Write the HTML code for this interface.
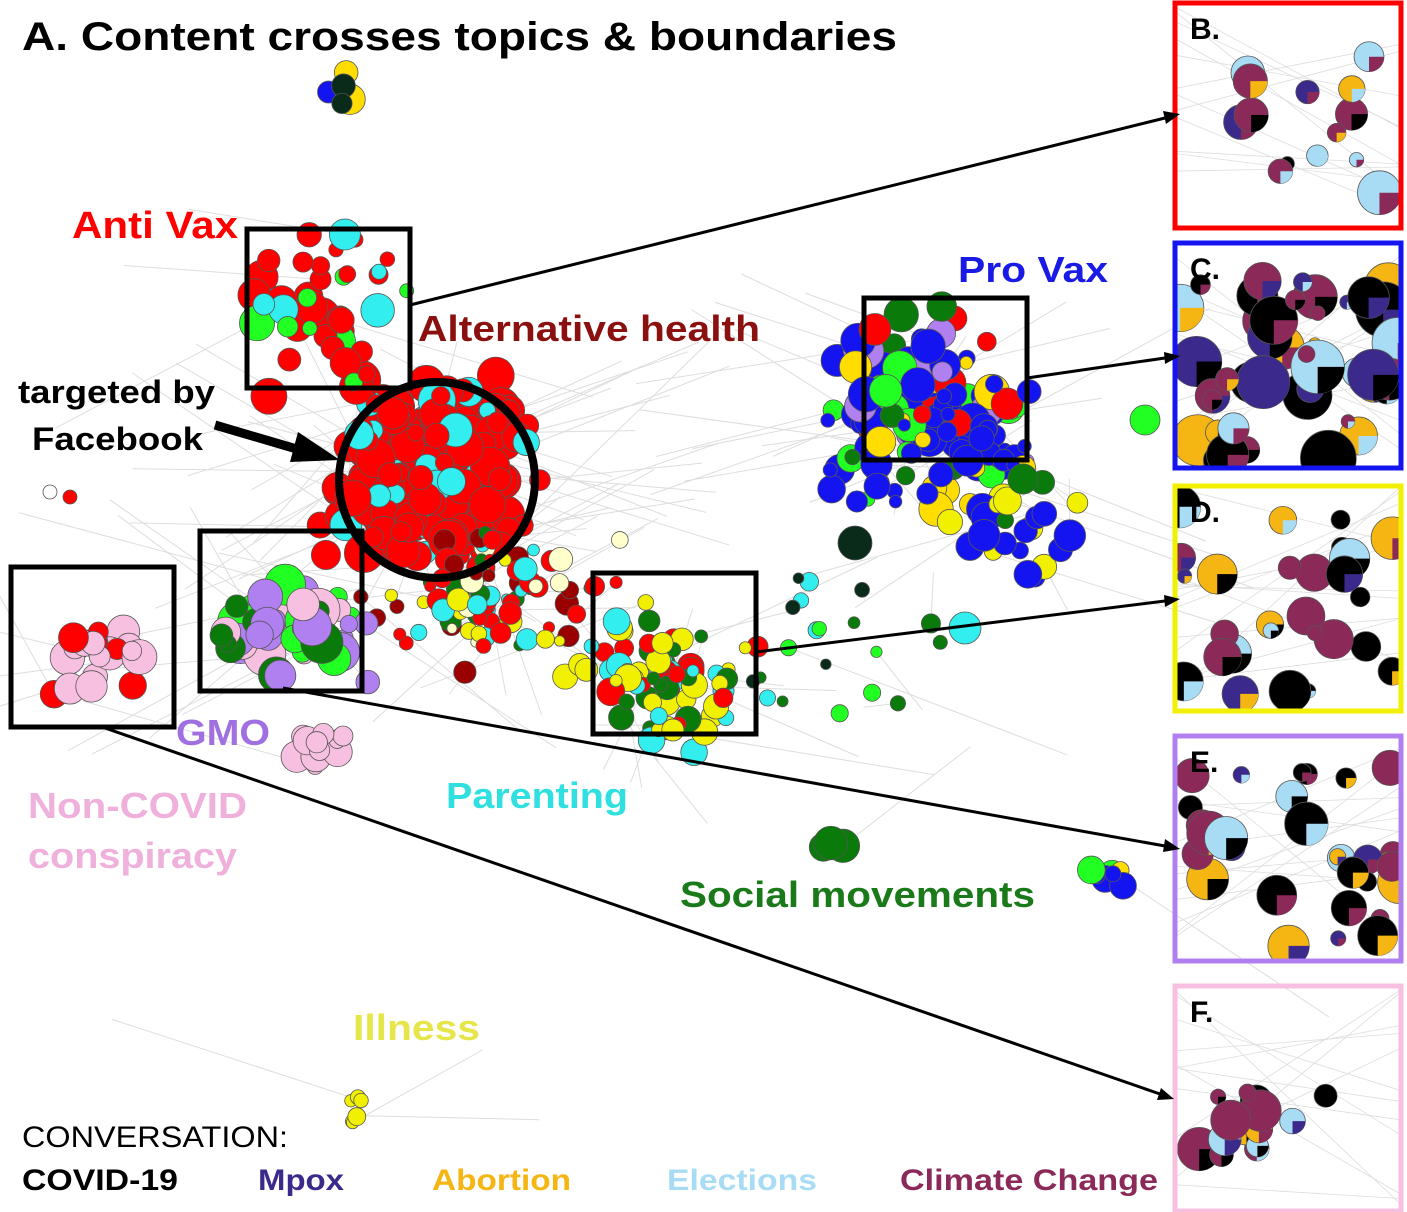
<!DOCTYPE html>
<html><head><meta charset="utf-8"><style>
body{margin:0;background:#fff;}
svg{display:block;font-family:"Liberation Sans",sans-serif;font-weight:bold;}
</style></head><body>
<svg id="s" width="1407" height="1212" viewBox="0 0 1407 1212" xmlns="http://www.w3.org/2000/svg">
<rect width="1407" height="1212" fill="#fff"/>
<g id="edges" stroke="#ddd" stroke-width="1" fill="none"></g>
<g id="nodes" stroke="#555" stroke-width="0.8"></g>
<g id="panels"></g>
<circle cx="437" cy="480" r="98" fill="none" stroke="#000" stroke-width="8"/>
<g fill="none" stroke="#000" stroke-width="5">
<rect x="247" y="229" width="163" height="159"/>
<rect x="864" y="298" width="163" height="162"/>
<rect x="200" y="531" width="162" height="160"/>
<rect x="11" y="567" width="163" height="160"/>
<rect x="593" y="573" width="163" height="161"/>
</g>
<g stroke="#000" stroke-width="3">
<line x1="410" y1="305" x2="1165" y2="118"/>
<line x1="1027" y1="378" x2="1165" y2="358"/>
<line x1="756" y1="652" x2="1165" y2="601"/>
<line x1="283" y1="688" x2="1165" y2="846"/>
<line x1="105" y1="728" x2="1160" y2="1094"/>
<line x1="215" y1="425" x2="300" y2="450" stroke-width="9"/>
</g>
<g fill="#000">
<polygon points="1180,114 1163,111 1166,124"/>
<polygon points="1180,356 1164,352 1165,364"/>
<polygon points="1180,599 1164,595 1165,607"/>
<polygon points="1180,849 1165,839 1163,852"/>
<polygon points="1174,1099 1161,1088 1157,1100"/>
<polygon points="340,460 298,432 290,462"/>
</g>
<text x="22" y="50" font-size="40" fill="#000" textLength="875" lengthAdjust="spacingAndGlyphs">A. Content crosses topics &amp; boundaries</text>
<text x="72" y="238" font-size="38" fill="#f00" textLength="166" lengthAdjust="spacingAndGlyphs">Anti Vax</text>
<text x="418" y="341" font-size="36" fill="#8b1010" textLength="342" lengthAdjust="spacingAndGlyphs">Alternative health</text>
<text x="958" y="282" font-size="36" fill="#1a1ae6" textLength="150" lengthAdjust="spacingAndGlyphs">Pro Vax</text>
<text x="18" y="403" font-size="32" fill="#000" textLength="197" lengthAdjust="spacingAndGlyphs">targeted by</text>
<text x="32" y="450" font-size="32" fill="#000" textLength="171" lengthAdjust="spacingAndGlyphs">Facebook</text>
<text x="176" y="745" font-size="36" fill="#a070e0" textLength="94" lengthAdjust="spacingAndGlyphs">GMO</text>
<text x="28" y="818" font-size="36" fill="#f0b0dc" textLength="219" lengthAdjust="spacingAndGlyphs">Non-COVID</text>
<text x="28" y="868" font-size="36" fill="#f0b0dc" textLength="209" lengthAdjust="spacingAndGlyphs">conspiracy</text>
<text x="446" y="808" font-size="36" fill="#30e0e0" textLength="182" lengthAdjust="spacingAndGlyphs">Parenting</text>
<text x="680" y="907" font-size="36" fill="#1a7a1a" textLength="355" lengthAdjust="spacingAndGlyphs">Social movements</text>
<text x="353" y="1040" font-size="36" fill="#e6e64a" textLength="127" lengthAdjust="spacingAndGlyphs">Illness</text>
<text x="22" y="1147" font-size="30" font-weight="normal" fill="#000" textLength="266" lengthAdjust="spacingAndGlyphs">CONVERSATION:</text>
<text x="22" y="1190" font-size="30" fill="#000" textLength="156" lengthAdjust="spacingAndGlyphs">COVID-19</text>
<text x="258" y="1190" font-size="30" fill="#3b2a8c" textLength="86" lengthAdjust="spacingAndGlyphs">Mpox</text>
<text x="432" y="1190" font-size="30" fill="#f5b512" textLength="139" lengthAdjust="spacingAndGlyphs">Abortion</text>
<text x="667" y="1190" font-size="30" fill="#a8dcf5" textLength="150" lengthAdjust="spacingAndGlyphs">Elections</text>
<text x="900" y="1190" font-size="30" fill="#8b2a58" textLength="258" lengthAdjust="spacingAndGlyphs">Climate Change</text>
</svg>
<script>
var s=1;function r(){s=(s*16807)%2147483647;return s/2147483647;}
var NS="http://www.w3.org/2000/svg";
function el(p,t,a){var e=document.createElementNS(NS,t);for(var k in a)e.setAttribute(k,a[k]);p.appendChild(e);return e;}
var N=document.getElementById('nodes'),E=document.getElementById('edges');
function cl(cx,cy,sx,sy,n,cols,rmin,rmax){for(var i=0;i<n;i++){var x=cx+(r()+r()-1)*sx,y=cy+(r()+r()-1)*sy;
if(r()<0.25)el(E,'line',{x1:x,y1:y,x2:cx+(r()-0.5)*600,y2:cy+(r()-0.5)*300});
el(N,'circle',{cx:x,cy:y,r:rmin+r()*(rmax-rmin),fill:cols[Math.floor(r()*cols.length)]});}}
var red='#f00',dr='#9b0000',g='#0a7a0a',lg='#2f2',cy='#3ee',bl='#1414f0',ye='#f0f000',pk='#f8c0e0',pu='#b080f0',dk='#0a2a1a';
cl(430,470,110,110,220,[red,red,red,red,red,red,cy],8,20);
cl(320,300,90,110,45,[red,red,red,red,lg,cy],6,18);
cl(500,600,150,80,90,[red,red,dr,g,cy,ye,'#ffc'],5,12);
cl(300,630,90,60,50,[g,pu,pu,lg,pk],8,22);
cl(90,660,70,40,22,[pk,pk,pk,red],8,18);
cl(320,745,40,30,14,[pk],8,16);
cl(660,680,100,80,80,[ye,ye,ye,g,cy,red],6,14);
cl(930,410,130,110,150,[bl,bl,bl,bl,bl,bl,'#fd0',g,lg,pu,red],6,18);
cl(1020,530,80,60,25,[bl,bl,g,ye],8,16);
cl(830,650,120,80,20,[g,dk,cy,lg],5,10);
cl(345,90,20,30,5,[dk,bl,'#fd0'],8,16);
cl(355,1110,10,25,7,[ye],6,9);
cl(1105,880,25,20,7,[bl,lg,'#fd0'],8,14);
cl(830,840,15,15,3,[g,dk],10,17);
el(N,'circle',{cx:855,cy:543,r:17,fill:dk});el(N,'circle',{cx:965,cy:628,r:16,fill:cy});
el(N,'circle',{cx:50,cy:492,r:7,fill:'#fff'});el(N,'circle',{cx:70,cy:497,r:7,fill:red});
el(N,'circle',{cx:1145,cy:420,r:15,fill:lg});
var P=document.getElementById('panels');
var pan=[[2,'#f00','B.'],[242,'#1414f0','C.'],[485,'#f0f000','D.'],[735,'#b080f0','E.'],[985,'#f8c0e0','F.']];
var pc=['#000','#3b2a8c','#8b2a58','#a8dcf5','#f5b512','#8b2a58','#000'];
pan.forEach(function(p,i){var y=p[0];
var cp=el(P,'clipPath',{id:'c'+i});el(cp,'rect',{x:1176,y:y+3,width:224,height:221});
var g2=el(P,'g',{'clip-path':'url(#c'+i+')',stroke:'#555','stroke-width':'0.8'});
for(var k=0;k<12;k++)el(g2,'line',{x1:1176,y1:y+r()*220,x2:1400,y2:y+r()*220,stroke:'#ddd'});
var n=[14,45,28,30,14][i];
for(var k=0;k<n;k++){var x=1176+r()*224,yy=y+20+r()*205;
if(i==0){x=1230+r()*170;yy=y+20+r()*205;}
if(i==4){yy=y+95+r()*80;x=1185+r()*150;}
var rr=6+r()*(i==1?22:16);
el(g2,'circle',{cx:x,cy:yy,r:rr,fill:pc[Math.floor(r()*pc.length)]});
el(g2,'path',{d:'M'+x+' '+yy+' L'+(x+rr)+' '+yy+' A'+rr+' '+rr+' 0 0 1 '+x+' '+(yy+rr)+'Z',fill:pc[Math.floor(r()*pc.length)],stroke:'none'});}
el(P,'rect',{x:1175,y:y+1,width:226,height:225,fill:'none',stroke:p[1],'stroke-width':5});
el(P,'text',{x:1190,y:y+37,'font-size':30,fill:'#000'}).textContent=p[2];
});
</script>
</body></html>
